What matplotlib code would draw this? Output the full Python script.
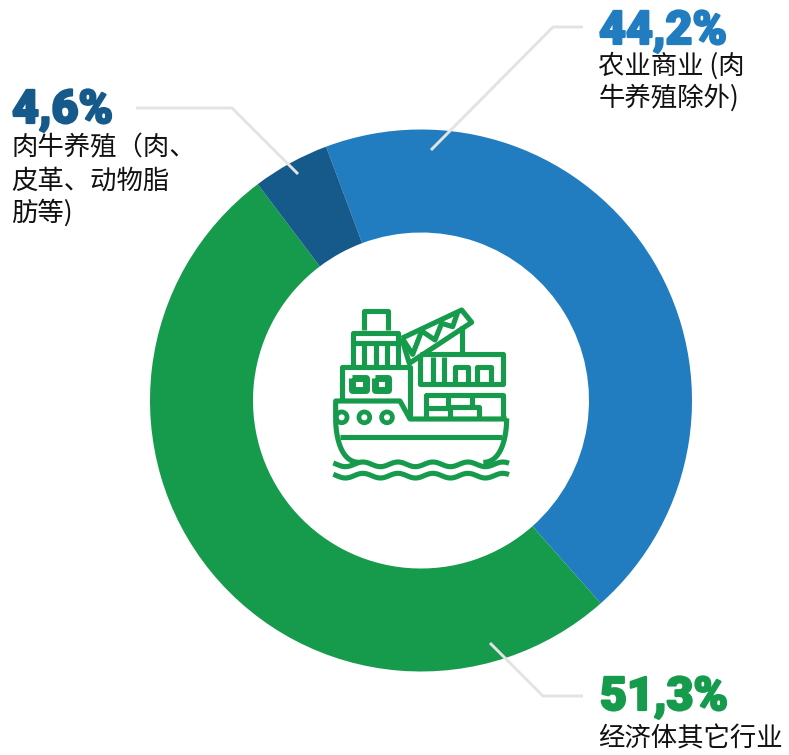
import numpy as np
import matplotlib
matplotlib.use('Agg')
import matplotlib.pyplot as plt
import matplotlib.patheffects as pe
from matplotlib.patches import Circle

plt.rcParams['font.family'] = ['Noto Sans CJK SC', 'DejaVu Sans']

# Datos
values = [44.2, 51.3, 4.6]
colors = ['#217dbf', '#169b4c', '#155a8a']
percent_labels = ['44,2%', '51,3%', '4,6%']
label_lines = [['农业商业 (肉', '牛养殖除外)'], ['经济体其它行业'], ['肉牛养殖（肉、', '皮革、动物脂', '肪等)']]

fig = plt.figure(figsize=(7.89, 7.55), dpi=100)
ax = fig.add_axes([0, 0, 1, 1])

# Eje invertido: counterclock=True se ve en sentido horario
ax.pie(values, colors=colors, startangle=-110.5, counterclock=True, center=(421, 400.5), radius=271,
       wedgeprops={'width': 103, 'linewidth': 0})
ax.set_xlim(0, 789)
ax.set_ylim(755, 0)
ax.set_aspect('equal')
ax.axis('off')

# Lineas guia
leaders = [[(136, 108), (232, 108), (298, 174)], [(431, 150), (553, 27), (583, 27)],
           [(490, 643), (543, 696), (583, 696)]]
for pts in leaders:
    xs, ys = zip(*pts)
    ax.plot(xs, ys, color='#e3e3e3', lw=2.1, solid_joinstyle='miter', solid_capstyle='butt')

# Textos
pct_pos = [(599, 44), (600, 710), (12, 123)]
line_pos = [(598.5, [66, 98]), (598.5, [739]), (11, [148, 181, 213])]
for i in range(3):
    ax.text(pct_pos[i][0], pct_pos[i][1], percent_labels[i], color=colors[i], fontsize=33.5,
            family='Roboto', fontweight='black', va='baseline', ha='left',
            path_effects=[pe.withStroke(linewidth=1.6, foreground=colors[i])])
    for line, y in zip(label_lines[i], line_pos[i][1]):
        ax.text(line_pos[i][0], y, line, color='#111111', fontsize=19, va='center', ha='left')

# Icono del barco (coordenadas del recorte, escala 1/3)
green = '#169b4c'


def ix(v):
    return 320 + np.asarray(v, dtype=float) / 3


def iy(v):
    return 295 + np.asarray(v, dtype=float) / 3


def stroke(pts, lw=3.7, cap='butt'):
    xs, ys = zip(*pts)
    ax.plot(ix(xs), iy(ys), color=green, lw=lw, solid_capstyle=cap, solid_joinstyle='round')


# chimenea
stroke([(132, 105), (132, 47), (205, 47), (205, 105)])
# puente superior
stroke([(100, 210), (100, 115), (235, 115), (235, 150)])
stroke([(100, 145), (235, 145)])
for x in [133, 167, 200, 235]:
    stroke([(x, 145), (x, 210)])
# puente
stroke([(65, 318), (65, 215), (270, 215), (270, 370)])
for x in [97, 165]:
    stroke([(x, 250), (x + 40, 250), (x + 40, 285), (x, 285), (x, 250)], lw=5)
# casco
stroke([(47, 370), (47, 318), (240, 318), (270, 372), (560, 372)])
stroke([(60, 425), (545, 425)])
t = np.linspace(0, 1, 30)
stroke(list(zip(47 + 70 * t ** 2, 370 + 132 * np.sin(t * np.pi / 2))))
stroke(list(zip(560 - 70 * t ** 2, 370 + 132 * np.sin(t * np.pi / 2))))
for x, y in [(65, 367), (133, 367), (201, 367)]:
    ax.add_patch(Circle((ix(x), iy(y)), 5.4, fill=False, ec=green, lw=3.4))
# grua
stroke([(245, 130), (425, 45), (455, 82), (268, 205), (245, 130)])
stroke([(250, 135), (278, 178), (305, 108), (345, 135), (365, 85), (398, 95), (412, 55)])
stroke([(425, 92), (425, 178)])
# contenedores arriba
stroke([(300, 178), (550, 178), (550, 268), (300, 268), (300, 178)])
stroke([(338, 185), (338, 262)])
stroke([(372, 185), (372, 262)])
for x in [405, 472]:
    stroke([(x, 262), (x, 215), (x + 40, 215), (x + 40, 262)])
# contenedores abajo
stroke([(318, 370), (318, 300), (550, 300), (550, 370)])
stroke([(318, 340), (385, 340), (385, 300)])
stroke([(390, 365), (390, 335), (478, 335), (478, 365)])
stroke([(455, 300), (455, 335)])
# olas
xw = np.linspace(40, 567, 120)
for y0 in [508, 542]:
    stroke(list(zip(xw, y0 + 7 * np.sin((xw - 40) * 2 * np.pi / 105 - 0.6))), lw=3.7)

fig.savefig('out.png', dpi=100)
